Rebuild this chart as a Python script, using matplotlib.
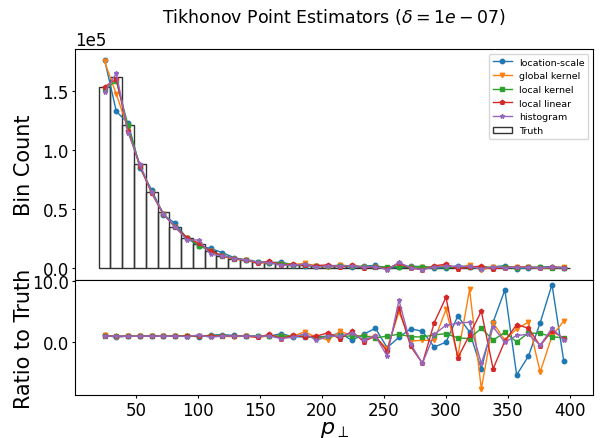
import numpy as np
import matplotlib
matplotlib.use("Agg")
import matplotlib.pyplot as plt

# bin edges: 40 bins from 20 to 400
edges = np.linspace(20, 400, 41)
centers = 0.5 * (edges[:-1] + edges[1:])

# true bin counts
truth = [153900, 162100, 121600, 88400, 64100, 47300, 34500, 25500, 19800, 14100,
         10200, 7700, 6500, 4800, 4200, 3400, 2600, 2100, 1800, 1500,
         1300, 1100, 950, 850, 750, 650, 550, 500, 450, 400,
         350, 300, 260, 220, 190, 160, 140, 120, 100, 90]

# estimate / truth for each estimator
ratio_locscale = [1.15, 0.82, 1.01, 0.96, 1.03, 0.95, 1.09, 0.98, 0.93, 1.16,
                  1.25, 1.1, 1.0, 1.0, 1.0, 1.4, 0.9, 0.85, 0.85, 1.0,
                  1.5, 0.3, 1.3, 2.3, -0.9, 0.8, 2.2, 1.8, -0.8, 0.0,
                  4.3, 1.7, -4.4, 3.3, 8.6, -5.4, -2.3, 3.2, 9.5, -3.1]
ratio_global = [1.14, 0.91, 0.97, 0.98, 0.99, 0.96, 1.0, 1.0, 1.0, 1.0,
                0.95, 0.9, 1.0, 0.8, 1.0, 1.0, 1.0, 1.7, 0.8, 0.4,
                1.8, 1.1, 1.0, 0.9, -1.1, 5.0, 0.2, 0.3, 0.3, 5.4,
                -2.3, 8.7, -7.7, 3.2, 0.3, 2.2, 3.3, -4.9, 1.0, 3.5]
ratio_local = [0.985, 0.98, 0.995, 0.98, 1.0, 0.97, 1.0, 1.0, 0.95, 1.0,
               1.0, 1.0, 1.0, 1.0, 1.0, 1.0, 1.0, 1.0, 0.7, 1.0,
               1.0, 1.0, 1.0, 0.7, 1.0, 1.3, 0.9, 0.85, 1.2, 1.4,
               0.7, 0.6, 2.3, 0.35, 1.6, 0.05, 1.5, 1.45, 0.9, 0.7]
ratio_linear = [1.0, 0.99, 0.955, 0.98, 0.99, 0.96, 1.0, 1.0, 1.05, 1.0,
                1.0, 1.0, 1.0, 0.8, 1.3, 0.6, 1.1, 0.9, 1.0, 1.55,
                0.55, 1.8, 0.1, 1.0, -1.5, 5.6, -0.7, -3.5, 3.2, 7.4,
                -2.6, 1.2, 5.1, -4.4, 0.2, 2.9, 2.3, -0.6, 1.9, 0.6]
ratio_hist = [0.97, 1.02, 0.945, 0.995, 1.0, 0.97, 1.0, 0.92, 1.19, 0.8,
              1.0, 1.0, 1.0, 1.0, 1.0, 0.6, 0.8, 1.4, 0.3, 1.0,
              1.0, 1.5, 0.4, 1.0, -2.3, 6.9, -0.3, -3.5, 1.3, 2.8,
              3.1, 3.3, -3.5, 2.5, 0.0, 1.1, 1.3, -0.5, 2.3, 0.4]

labels = ['location-scale', 'global kernel', 'local kernel', 'local linear', 'histogram']
ratios = [ratio_locscale, ratio_global, ratio_local, ratio_linear, ratio_hist]
colors = ['tab:blue', 'tab:orange', 'tab:green', 'tab:red', 'tab:purple']
markers = ['o', 'v', 's', 'p', '*']

truth = np.array(truth, dtype=float)

fig = plt.figure(figsize=(6.01, 4.39), dpi=100)
ax1 = fig.add_axes([0.125, 0.360, 0.862, 0.526])
ax2 = fig.add_axes([0.125, 0.098, 0.862, 0.262], sharex=ax1)

for lab, r, c, m in zip(labels, ratios, colors, markers):
    r = np.array(r)
    ax1.plot(centers, r * truth, color=c, marker=m, markersize=3.2,
             linewidth=1, label=lab)
    ax2.plot(centers, r, color=c, marker=m, markersize=3.2, linewidth=1)

ax1.bar(centers, truth, width=edges[1] - edges[0], fill=False,
        edgecolor='0.2', linewidth=1, label='Truth')

ax1.set_ylim(-0.105e5, 1.86e5)
ax1.set_xlim(1, 419)
ax1.ticklabel_format(axis='y', style='sci', scilimits=(0, 0))
ax1.set_ylabel('Bin Count', fontsize=15)
ax1.tick_params(axis='x', labelbottom=False, length=2)
ax1.tick_params(axis='y', labelsize=12, length=2.5, pad=2)
ax1.yaxis.get_offset_text().set_fontsize(12)
ax1.legend(loc='upper right', fontsize=6.8)

ax2.set_ylim(-8.7, 10.25)
ax2.set_yticks([0, 10])
ax2.set_yticklabels(['0.0', '10.0'])
ax2.tick_params(labelsize=12, length=2.5, pad=2)
ax2.set_ylabel('Ratio to Truth', fontsize=15)
ax2.set_xlabel(r'$p_\perp$', fontsize=16, labelpad=0)

ax1.yaxis.set_label_coords(-0.08, 0.5)
ax2.yaxis.set_label_coords(-0.08, 0.5)

# title centred over the axes
fig.text(0.556, 0.962, r'Tikhonov Point Estimators ($\delta=1e-07$)',
         fontsize=12.5, ha='center', va='center')

fig.savefig('out.png', dpi=100)
